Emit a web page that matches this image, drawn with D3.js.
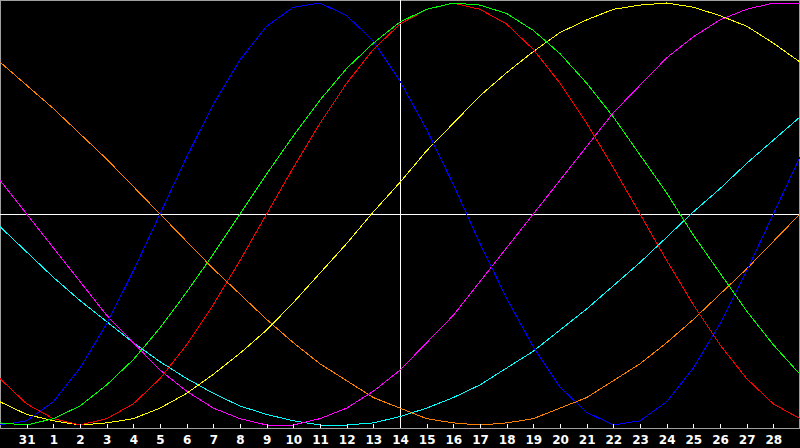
<!DOCTYPE html>
<html>
<head>
<meta charset="utf-8">
<script src="https://cdn.jsdelivr.net/npm/d3@7"></script>
<style>
  html, body { margin: 0; padding: 0; background: #000; overflow: hidden; }
  svg { display: block; }
</style>
</head>
<body>
<div id="chart"></div>
<script>
// day labels under the ticks (index 0 and 30 sit on the frame, no label)
const dayLabels = ['30', '31', '1', '2', '3', '4', '5', '6', '7', '8', '9', '10', '11', '12', '13',
  '14', '15', '16', '17', '18', '19', '20', '21', '22', '23', '24', '25', '26', '27', '28', '29'];

// one value per day, -1 .. 1
const blueVals = [-1.00, -0.98, -0.89, -0.73, -0.52, -0.27, 0.00, 0.27, 0.52, 0.73, 0.89, 0.98, 1.00, 0.94, 0.82,
  0.63, 0.40, 0.14, -0.14, -0.40, -0.63, -0.82, -0.94, -1.00, -0.98, -0.89, -0.73, -0.52, -0.27, 0.00, 0.27];
const redVals = [-0.78, -0.90, -0.97, -1.00, -0.97, -0.90, -0.78, -0.62, -0.43, -0.22, 0.00, 0.22, 0.43, 0.62, 0.78,
  0.90, 0.97, 1.00, 0.97, 0.90, 0.78, 0.62, 0.43, 0.22, 0.00, -0.22, -0.43, -0.62, -0.78, -0.90, -0.97];
const greenVals = [-0.99, -1.00, -0.97, -0.91, -0.81, -0.69, -0.54, -0.37, -0.19, 0.00, 0.19, 0.37, 0.54, 0.69, 0.81,
  0.91, 0.97, 1.00, 0.99, 0.95, 0.87, 0.76, 0.62, 0.46, 0.28, 0.10, -0.10, -0.28, -0.46, -0.62, -0.76];
const yellowVals = [-0.89, -0.95, -0.98, -1.00, -0.99, -0.97, -0.92, -0.85, -0.76, -0.66, -0.55, -0.42, -0.28, -0.14, 0.01,
  0.15, 0.30, 0.43, 0.56, 0.67, 0.77, 0.86, 0.92, 0.97, 0.99, 1.00, 0.98, 0.94, 0.89, 0.81, 0.72];
const magentaVals = [0.16, 0.00, -0.16, -0.32, -0.48, -0.61, -0.74, -0.84, -0.92, -0.97, -1.00, -1.00, -0.97, -0.92, -0.84,
  -0.74, -0.61, -0.48, -0.32, -0.16, 0.00, 0.16, 0.32, 0.48, 0.61, 0.74, 0.84, 0.92, 0.97, 1.00, 1.00];
const cyanVals = [-0.06, -0.18, -0.30, -0.41, -0.51, -0.61, -0.70, -0.78, -0.85, -0.91, -0.95, -0.98, -1.00, -1.00, -0.99,
  -0.96, -0.92, -0.87, -0.81, -0.73, -0.65, -0.55, -0.45, -0.34, -0.23, -0.11, 0.01, 0.12, 0.24, 0.35, 0.46];
const orangeVals = [0.72, 0.61, 0.50, 0.38, 0.26, 0.13, 0.00, -0.13, -0.26, -0.38, -0.50, -0.61, -0.71, -0.79, -0.87,
  -0.92, -0.97, -0.99, -1.00, -0.99, -0.97, -0.92, -0.87, -0.79, -0.71, -0.61, -0.50, -0.38, -0.26, -0.13, 0.00];

const series = [
  { color: '#ff8000', values: orangeVals },
  { color: '#00ffff', values: cyanVals },
  { color: '#ff00ff', values: magentaVals },
  { color: '#ffff00', values: yellowVals },
  { color: '#0000ff', values: blueVals },
  { color: '#ff0000', values: redVals },
  { color: '#00ff00', values: greenVals }
];

const W = 800, H = 448, axisY = 428;
const svg = d3.select('#chart').append('svg')
  .attr('width', W).attr('height', H)
  .style('background', '#000');

const x = d3.scaleLinear().domain([0, dayLabels.length - 1]).range([0, 800]);
const y = d3.scaleLinear().domain([-1, 1]).range([425, 3]);

// frame: top, left, right edges in grey
svg.append('path')
  .attr('d', `M0.5,${axisY}V0.5H799.5V${axisY}`)
  .attr('fill', 'none').attr('stroke', '#a0a0a0')
  .attr('shape-rendering', 'crispEdges');

// centre cross
svg.append('line')
  .attr('x1', 0).attr('x2', W).attr('y1', y(0) + 0.5).attr('y2', y(0) + 0.5)
  .attr('stroke', '#fff').attr('shape-rendering', 'crispEdges');
svg.append('line')
  .attr('x1', x(15) + 0.5).attr('x2', x(15) + 0.5).attr('y1', 0).attr('y2', axisY)
  .attr('stroke', '#fff').attr('shape-rendering', 'crispEdges');

// the curves, one point per day
const line = d3.line().x((d, i) => x(i)).y(d => y(d));
svg.append('g').selectAll('path')
  .data(series).enter().append('path')
  .attr('d', d => line(d.values))
  .attr('fill', 'none')
  .attr('stroke', d => d.color)
  .attr('stroke-width', 1)
  .attr('shape-rendering', 'crispEdges');

// bottom axis: ticks point up, labels below
const ticks = d3.range(1, dayLabels.length - 1);
const axis = svg.append('g')
  .attr('transform', `translate(0,${axisY + 0.5})`)
  .call(d3.axisBottom(x).tickValues(ticks).tickSize(-5).tickPadding(7)
    .tickFormat(i => dayLabels[i]));
axis.select('.domain').remove();
axis.selectAll('.tick line').attr('stroke', '#fff').attr('shape-rendering', 'crispEdges');
axis.selectAll('.tick text')
  .attr('fill', '#fff')
  .attr('font-family', '"DejaVu Sans", sans-serif')
  .attr('font-weight', 'bold')
  .attr('font-size', 12);
svg.append('line')
  .attr('x1', 0).attr('x2', W).attr('y1', axisY + 0.5).attr('y2', axisY + 0.5)
  .attr('stroke', '#a0a0a0').attr('shape-rendering', 'crispEdges');
</script>
</body>
</html>
